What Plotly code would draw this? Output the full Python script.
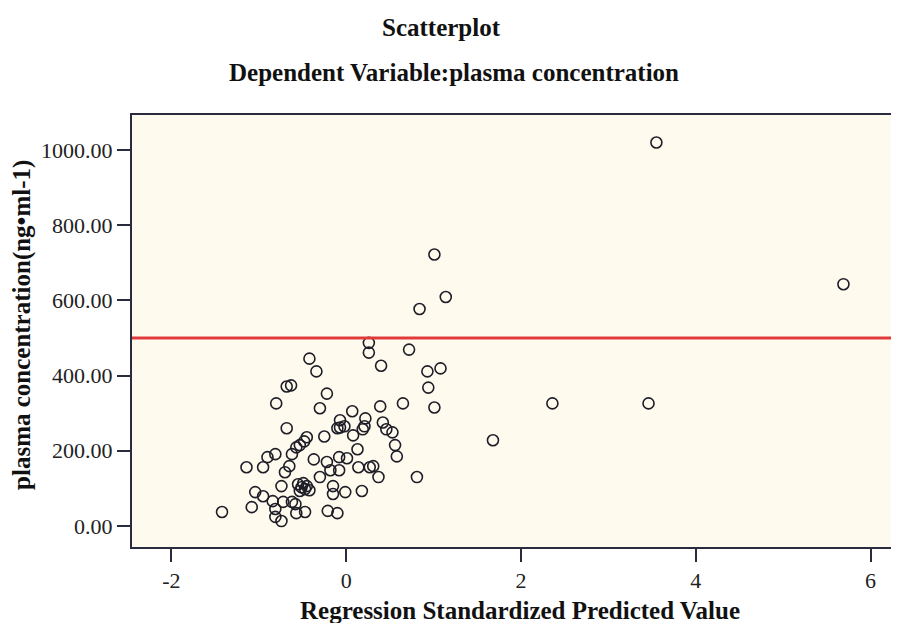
import plotly.graph_objects as go

pred = [3.55, 5.69, 1.01, 1.14, 0.84, 0.72, 0.26, 0.26, -0.42, -0.34,
        0.40, 0.93, 1.08, 0.94, 1.01, 0.65, 0.39, -0.68, -0.63, -0.80,
        -0.22, -0.30, 0.07, -0.68, -0.07, -0.07, -0.10, -0.02, 0.22, 0.21,
        0.19, 0.08, 0.42, 0.46, 0.53, 0.56, 0.58, -0.25, -0.45, -0.48,
        -0.53, -0.57, -0.62, -0.81, -0.90, -1.14, -0.95, 0.13, -0.37, -0.22,
        -0.08, 0.01, -0.18, -0.08, -0.65, -0.70, 0.14, 0.27, 0.31, 0.37,
        0.81, -0.30, -0.74, -0.55, -0.51, -0.49, -0.47, -0.45, -0.53, -0.42,
        -0.15, -0.15, -0.01, 0.18, -1.04, -0.95, -0.84, -0.72, -0.62, -0.58,
        -1.08, -0.81, -0.81, -0.74, -0.57, -0.47, -0.21, -0.10, -1.42, 2.36,
        3.46, 1.68]
conc = [1020, 643, 722, 609, 577, 469, 487, 461, 445, 411,
        426, 411, 419, 368, 315, 326, 318, 371, 374, 326,
        352, 313, 305, 260, 281, 262, 260, 265, 286, 265,
        257, 241, 275, 257, 249, 215, 185, 238, 236, 225,
        215, 209, 191, 191, 183, 156, 156, 204, 177, 170,
        183, 180, 148, 148, 159, 143, 156, 156, 159, 130,
        130, 130, 106, 111, 103, 114, 98, 106, 93, 95,
        106, 85, 90, 93, 90, 79, 66, 64, 64, 58,
        50, 45, 24, 13, 34, 37, 40, 34, 37, 326,
        326, 228]

reference_level = 500
x_ticks = [-2, 0, 2, 4, 6]
y_ticks = [0, 200, 400, 600, 800, 1000]

serif = "Liberation Serif, Times New Roman, serif"
axis_col = "#2b2b3f"
title_font = dict(family=serif, size=25, color="#111")

fig = go.Figure()
fig.add_trace(go.Scatter(
    x=pred, y=conc, mode="markers",
    marker=dict(symbol="circle-open", size=11, color="#1e1e28",
                line=dict(width=1.6)),
    showlegend=False, hoverinfo="x+y"))

fig.add_hline(y=reference_level, line=dict(color="#e03a3a", width=3))

# the plot area runs past the right edge of the window, as in the reference
W = 905
plot_w = W - 124
fig.update_layout(
    width=W, height=615,
    margin=dict(l=124, r=0, t=107, b=76),
    paper_bgcolor="white", plot_bgcolor="#fffaee",
    font=dict(family=serif, color="#111"),
    annotations=[
        dict(text="<b>Scatterplot</b>", x=309 / plot_w, xref="paper",
             xanchor="center", y=1.2037, yref="paper", yanchor="middle",
             showarrow=False, font=title_font),
        dict(text="<b>Dependent Variable:plasma concentration</b>",
             x=322 / plot_w, xref="paper", xanchor="center", y=1.0995,
             yref="paper", yanchor="middle", showarrow=False, font=title_font),
        dict(text="<b>Regression Standardized Predicted Value</b>",
             x=388 / plot_w, xref="paper", xanchor="center", y=-0.1470,
             yref="paper", yanchor="middle", showarrow=False, font=title_font),
        dict(text="<b>plasma concentration(ng•ml-1)</b>", x=-110 / plot_w,
             xref="paper", xanchor="center", y=0.514, yref="paper",
             yanchor="middle", showarrow=False, textangle=-90, font=title_font),
    ],
)
fig.update_xaxes(
    range=[-2.45, -2.45 + plot_w / 87.4], tickvals=x_ticks,
    ticktext=[str(v) for v in x_ticks],
    ticks="outside", ticklen=13, tickwidth=2, tickcolor=axis_col,
    showline=True, linecolor=axis_col, linewidth=2, mirror=True,
    showgrid=False, zeroline=False, automargin=False,
    tickfont=dict(family=serif, size=22, color="#222"),
)
fig.update_yaxes(
    range=[-56, 1093], tickvals=y_ticks, tickformat=".2f",
    ticks="outside", ticklen=13, tickwidth=2, tickcolor=axis_col,
    showline=True, linecolor=axis_col, linewidth=2, mirror=False,
    showgrid=False, zeroline=False, automargin=False,
    tickfont=dict(family=serif, size=22, color="#222"),
)

fig.write_html("out.html")
